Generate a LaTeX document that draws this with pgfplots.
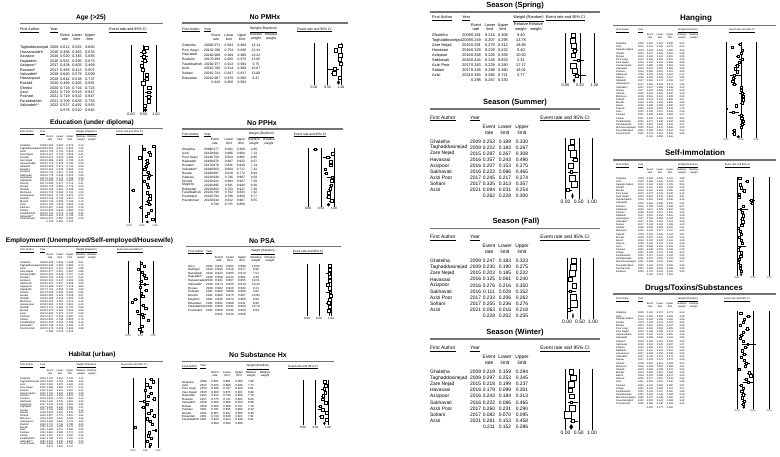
\documentclass[border=0pt]{standalone}
\usepackage{fontspec}
\setmainfont{Liberation Sans}
\usepackage{pgfplots}
\usepackage{pgfplotstable}
\pgfplotsset{compat=1.18}

% ---------------- data ----------------
\pgfplotstableread[col sep=comma]{
a,yr,e,l,u,w
Taghaddosinejad,2009,0.612,0.562,0.660,7.4
Hassanzadeh,2016,0.498,0.363,0.633,6.1
Azizpoor,2016,0.520,0.345,0.685,5.6
Hajizadeh,2016,0.561,0.395,0.673,5.8
Azizpoor*,2017,0.438,0.403,0.469,7.6
Rostami*,2017,0.456,0.413,0.507,7.4
Valizadeh*,2018,0.640,0.578,0.699,7.2
Hassanpour,2018,0.644,0.538,0.737,6.5
Rashidi,2020,0.493,0.405,0.581,6.9
Ghodsi,2020,0.719,0.716,0.723,7.9
Azizi,2021,0.719,0.543,0.847,5.2
Pashaei,2021,0.719,0.542,0.847,5.2
Farahbakhsh,2021,0.709,0.683,0.733,7.8
Valizadeh**,2022,0.537,0.491,0.583,7.4
}\tAge

\pgfplotstableread[col sep=comma]{
a,yr,e,l,u,w
Ghaleiha,2009,0.953,0.920,0.973,4.12
Taghaddosinejad,2009,0.597,0.547,0.645,4.30
Azizi,2012,0.763,0.701,0.816,4.21
Zare Nejad,2015,0.811,0.793,0.828,4.41
Dastani,2015,0.412,0.344,0.484,4.17
Sari Nejad,2015,0.688,0.631,0.740,4.25
Hassanzadeh,2016,0.712,0.619,0.790,4.05
Nikbakht,2016,0.655,0.571,0.730,4.09
Rostami,2016,0.601,0.540,0.659,4.23
Azizpoor,2016,0.734,0.657,0.799,4.11
Sakhavati,2016,0.778,0.546,0.910,2.95
Asgarpour,2017,0.742,0.713,0.769,4.38
Hajizadeh,2017,0.583,0.502,0.660,4.12
Ghodsi,2017,0.695,0.677,0.712,4.41
Rezaei,2018,0.733,0.681,0.779,4.24
Shahidi,2018,0.154,0.091,0.248,3.62
Mehrpour,2019,0.705,0.642,0.761,4.20
Hassanpour,2019,0.812,0.736,0.870,4.02
Rashidi,2020,0.794,0.769,0.817,4.39
Moradi,2020,0.733,0.659,0.796,4.13
Azizi,2021,0.781,0.604,0.894,3.40
Pashaei,2021,0.467,0.395,0.541,4.16
Soltani,2021,0.859,0.830,0.884,4.33
Farahbakhsh,2021,0.741,0.712,0.768,4.38
Valizadeh**,2022,0.661,0.615,0.704,4.31
Pourhamzeh,2022,0.912,0.867,0.943,4.06
}\tEdu

\pgfplotstableread[col sep=comma]{
a,yr,e,l,u,w
Ghaleiha,2009,0.538,0.466,0.608,4.61
Taghaddosinejad,2009,0.636,0.586,0.683,4.73
Azizi,2012,0.412,0.341,0.487,4.58
Zare Nejad,2015,0.577,0.557,0.597,4.86
Hassanzadeh,2016,0.641,0.545,0.727,4.40
Rostami,2016,0.702,0.640,0.757,4.62
Azizpoor,2016,0.515,0.437,0.592,4.55
Sakhavati,2016,0.667,0.437,0.838,3.09
Asgarpour,2017,0.488,0.457,0.519,4.82
Hajizadeh,2017,0.731,0.655,0.795,4.50
Ghodsi,2017,0.523,0.504,0.542,4.86
Rezaei,2018,0.583,0.526,0.638,4.67
Shahidi,2018,0.298,0.216,0.395,4.28
Mehrpour,2019,0.155,0.110,0.214,4.41
Hassanpour,2019,0.604,0.510,0.691,4.42
Rashidi,2020,0.711,0.684,0.737,4.84
Moradi,2020,0.375,0.302,0.454,4.55
Azizi,2021,0.563,0.372,0.737,3.66
Pashaei,2021,0.617,0.542,0.687,4.57
Soltani,2021,0.802,0.768,0.832,4.79
Farahbakhsh,2021,0.052,0.030,0.089,4.30
Valizadeh**,2022,0.548,0.502,0.593,4.74
Pourhamzeh,2022,0.473,0.403,0.544,4.58
}\tEmp

\pgfplotstableread[col sep=comma]{
a,yr,e,l,u,w
Ghaleiha,2009,0.724,0.654,0.784,4.21
Taghaddosinejad,2009,0.802,0.759,0.839,4.30
Azizi,2012,0.553,0.478,0.626,4.25
Zare Nejad,2015,0.688,0.669,0.707,4.41
Dastani,2015,0.492,0.421,0.563,4.24
Hassanzadeh,2016,0.742,0.649,0.818,4.08
Rostami,2016,0.615,0.554,0.673,4.28
Azizpoor,2016,0.833,0.765,0.884,4.12
Sakhavati,2016,0.444,0.245,0.663,3.32
Asgarpour,2017,0.579,0.548,0.609,4.39
Hajizadeh,2017,0.405,0.330,0.485,4.21
Ghodsi,2017,0.716,0.699,0.733,4.42
Rezaei,2018,0.624,0.567,0.678,4.29
Shahidi,2018,0.857,0.770,0.915,3.94
Mehrpour,2019,0.581,0.516,0.643,4.26
Hassanpour,2019,0.693,0.600,0.773,4.09
Rashidi,2020,0.774,0.749,0.798,4.40
Moradi,2020,0.102,0.058,0.171,4.22
Azizi,2021,0.906,0.751,0.969,2.95
Pashaei,2021,0.661,0.588,0.727,4.23
Soltani,2021,0.611,0.571,0.650,4.36
Farahbakhsh,2021,0.728,0.702,0.752,4.40
Valizadeh**,2022,0.579,0.533,0.624,4.35
Pourhamzeh,2022,0.689,0.620,0.750,4.22
}\tHab

\pgfplotstableread[col sep=comma]{
a,yr,e,l,u,w
Ghaleiha,2009,0.971,0.933,0.989,13.14
Poor Asayi,2014,0.798,0.754,0.836,13.34
Hajizadeh,2016,0.968,0.949,0.980,13.22
Rostami,2017,0.956,0.925,0.975,13.05
Farahbakhsh,2020,0.977,0.913,0.994,9.75
Azizi,2021,0.760,0.514,0.909,10.87
Soltani,2021,0.741,0.647,0.817,13.08
Eskandari,2021,0.967,0.879,0.992,8.47
}\tPMH

\pgfplotstableread[col sep=comma]{
a,yr,e,l,u,w
Ghaleiha,2009,0.277,0.202,0.368,4.85
Azizi,2012,0.942,0.906,0.964,7.13
Poor Asayi,2014,0.758,0.564,0.882,4.95
Hajizadeh,2016,0.876,0.807,0.923,6.97
Rostami,2017,0.876,0.831,0.910,7.14
Valizadeh*,2018,0.663,0.604,0.717,7.32
Rezaei,2020,0.697,0.610,0.772,6.93
Pashaei,2021,0.939,0.746,0.987,4.58
Ghodsi,2021,0.922,0.904,0.937,7.50
Moghimi,2021,0.895,0.811,0.944,6.30
Eskandari,2021,0.853,0.753,0.917,7.20
Farahbakhsh,2021,0.790,0.752,0.823,7.32
Pourmand,2022,0.793,0.706,0.860,6.77
Pourahmad,2022,0.918,0.812,0.967,6.55
}\tPPH

\pgfplotstableread[col sep=comma]{
a,yr,e,l,u,w
Azizi,2012,0.943,0.901,0.968,10.02
Hashjani,2013,0.956,0.918,0.977,9.92
Nasrabadi,2014,0.923,0.805,0.973,7.51
Hajizadeh,2016,0.958,0.912,0.981,9.36
Hassanzadeh,2016,0.931,0.897,0.955,10.31
Valizadeh*,2018,0.874,0.826,0.910,10.44
Rezaei,2020,0.962,0.920,0.983,9.21
Pashaei,2021,0.969,0.808,0.996,4.62
Ghodsi,2021,0.982,0.975,0.987,10.92
Moghimi,2021,0.936,0.872,0.969,8.50
Eskandari,2021,0.891,0.808,0.941,8.95
Farahbakhsh,2021,0.950,0.931,0.964,10.70
Pourmand,2022,0.906,0.832,0.950,8.04
}\tPSA

\pgfplotstableread[col sep=comma]{
a,yr,e,l,u,w
Ghaleiha,2009,0.861,0.801,0.905,7.89
Azizi,2012,0.915,0.869,0.946,7.77
Poor Asayi,2014,0.846,0.707,0.926,6.61
Zare Nejad,2015,0.889,0.876,0.901,8.38
Hajizadeh,2016,0.812,0.739,0.868,7.78
Rostami,2017,0.775,0.721,0.821,8.03
Valizadeh*,2018,0.902,0.866,0.929,8.00
Rezaei,2020,0.685,0.598,0.761,7.79
Pashaei,2021,0.781,0.605,0.893,6.22
Ghodsi,2021,0.957,0.947,0.965,8.30
Eskandari,2021,0.744,0.649,0.821,7.61
Farahbakhsh,2021,0.933,0.914,0.948,8.21
}\tSub

\pgfplotstableread[col sep=comma]{
a,yr,e,l,u,w
Ghaleiha,2009,0.261,0.214,0.308,9.40
Taghaddosinejad,2009,0.249,0.207,0.295,13.78
Zare Nejad,2015,0.291,0.279,0.312,18.85
Havasasi,2016,0.328,0.229,0.432,5.40
Azizpoor,2016,0.268,0.226,0.358,10.50
Sakhavati,2016,0.444,0.248,0.653,2.31
Azizi Poor,2017,0.263,0.229,0.280,17.17
Soltani,2017,0.328,0.298,0.360,18.01
Azizi,2021,0.383,0.266,0.721,3.77
}\tSpr

\pgfplotstableread[col sep=comma]{
a,yr,e,l,u,w
Ghaleiha,2009,0.253,0.189,0.330,9.4
Taghaddosinejad,2009,0.222,0.183,0.267,13.8
Zare Nejad,2015,0.287,0.267,0.308,18.9
Havasasi,2016,0.357,0.243,0.490,5.4
Azizpoor,2016,0.207,0.153,0.275,10.5
Sakhavati,2016,0.222,0.086,0.465,2.3
Azizi Poor,2017,0.245,0.217,0.274,17.2
Soltani,2017,0.335,0.313,0.357,18.0
Azizi,2021,0.094,0.031,0.254,3.8
}\tSum

\pgfplotstableread[col sep=comma]{
a,yr,e,l,u,w
Ghaleiha,2009,0.247,0.183,0.323,9.4
Taghaddosinejad,2009,0.230,0.190,0.275,13.8
Zare Nejad,2015,0.203,0.185,0.222,18.9
Havasasi,2016,0.125,0.061,0.240,5.4
Azizpoor,2016,0.276,0.216,0.350,10.5
Sakhavati,2016,0.111,0.028,0.352,2.3
Azizi Poor,2017,0.233,0.206,0.262,17.2
Soltani,2017,0.255,0.236,0.276,18.0
Azizi,2021,0.063,0.016,0.218,3.8
}\tFal

\pgfplotstableread[col sep=comma]{
a,yr,e,l,u,w
Ghaleiha,2009,0.219,0.159,0.294,9.4
Taghaddosinejad,2009,0.297,0.253,0.345,13.8
Zare Nejad,2015,0.218,0.199,0.237,18.9
Havasasi,2016,0.179,0.099,0.301,5.4
Azizpoor,2016,0.243,0.184,0.313,10.5
Sakhavati,2016,0.222,0.086,0.465,2.3
Azizi Poor,2017,0.260,0.231,0.290,17.2
Soltani,2017,0.082,0.070,0.095,18.0
Azizi,2021,0.281,0.153,0.458,3.8
}\tWin

\pgfplotstableread[col sep=comma]{
a,yr,e,l,u,w
Ghaleiha,2009,0.481,0.414,0.548,3.43
Azizi,2012,0.215,0.165,0.275,3.34
Sadeghi Zadeh,2013,0.528,0.491,0.565,3.53
Ghodsi,2013,0.512,0.463,0.561,3.49
Mirzaei,2014,0.404,0.331,0.481,3.36
Poor Asayi,2014,0.530,0.446,0.612,3.30
Zare Nejad,2015,0.437,0.416,0.458,3.58
Hassanzadeh,2015,0.383,0.298,0.476,3.24
Hajizadeh,2016,0.316,0.258,0.381,3.38
Rostami,2016,0.365,0.321,0.411,3.50
Sakhavati,2016,0.278,0.122,0.516,2.11
Dastani,2016,0.250,0.193,0.317,3.35
Nikbakht,2017,0.224,0.174,0.283,3.37
Hassanpour,2017,0.281,0.204,0.374,3.18
Valizadeh*,2017,0.507,0.466,0.548,3.52
Rezaei,2017,0.518,0.458,0.578,3.45
Shahidi,2018,0.526,0.420,0.630,3.13
Mehrpour,2018,0.561,0.512,0.609,3.49
Rashidi,2019,0.573,0.547,0.599,3.57
Moradi,2019,0.530,0.459,0.600,3.39
Bazmi,2019,0.338,0.299,0.380,3.52
Rasouli,2020,0.022,0.006,0.078,1.76
Azizi,2021,0.235,0.107,0.439,2.33
Pashaei,2021,0.508,0.406,0.609,3.17
Soltani,2021,0.522,0.491,0.553,3.56
Farahbakhsh,2021,0.571,0.548,0.594,3.58
Khodabandeh,2021,0.552,0.460,0.641,3.27
Mohammadnejad,2022,0.514,0.470,0.558,3.50
Nourolahzadeh,2022,0.262,0.201,0.334,3.33
Pourhamzeh,2022,0.274,0.213,0.345,3.35
}\tHang

\pgfplotstableread[col sep=comma]{
a,yr,e,l,u,w
Ghaleiha,2009,0.086,0.055,0.131,3.39
Azizi,2012,0.308,0.245,0.379,3.41
Sadeghi Zadeh,2013,0.104,0.083,0.129,3.50
Ghodsi,2013,0.121,0.092,0.158,3.45
Mirzaei,2014,0.216,0.160,0.285,3.38
Poor Asayi,2014,0.079,0.044,0.138,3.12
Zare Nejad,2015,0.054,0.045,0.064,3.51
Hassanzadeh,2015,0.452,0.360,0.548,3.36
Hajizadeh,2016,0.466,0.398,0.535,3.42
Rostami,2016,0.198,0.163,0.238,3.47
Sakhavati,2016,0.111,0.028,0.352,1.93
Dastani,2016,0.164,0.117,0.225,3.35
Nikbakht,2017,0.201,0.152,0.261,3.38
Hassanpour,2017,0.154,0.098,0.234,3.23
Valizadeh*,2017,0.180,0.151,0.213,3.48
Rezaei,2017,0.149,0.110,0.199,3.40
Shahidi,2018,0.029,0.009,0.087,2.31
Mehrpour,2018,0.103,0.077,0.137,3.42
Rashidi,2019,0.125,0.109,0.143,3.51
Moradi,2019,0.057,0.031,0.103,3.15
Bazmi,2019,0.132,0.106,0.163,3.46
Rasouli,2020,0.164,0.118,0.224,3.36
Azizi,2021,0.088,0.022,0.293,2.05
Pashaei,2021,0.046,0.019,0.108,2.78
Soltani,2021,0.126,0.107,0.148,3.50
Farahbakhsh,2021,0.117,0.103,0.132,3.52
Khodabandeh,2021,0.074,0.040,0.133,3.09
Mohammadnejad,2022,0.038,0.024,0.060,3.27
Nourolahzadeh,2022,0.105,0.070,0.155,3.30
Pourhamzeh,2022,0.092,0.060,0.138,3.28
Khademi,2022,0.131,0.093,0.181,3.32
}\tSelf

\pgfplotstableread[col sep=comma]{
a,yr,e,l,u,w
Ghaleiha,2009,0.118,0.079,0.173,3.41
Azizi,2012,0.356,0.290,0.428,3.48
Sadeghi Zadeh,2013,0.229,0.199,0.262,3.56
Ghodsi,2013,0.182,0.147,0.223,3.52
Mirzaei,2014,0.091,0.055,0.147,3.28
Poor Asayi,2014,0.318,0.242,0.405,3.39
Zare Nejad,2015,0.196,0.180,0.213,3.59
Hassanzadeh,2015,0.124,0.072,0.205,3.18
Hajizadeh,2016,0.098,0.066,0.143,3.35
Rostami,2016,0.185,0.151,0.225,3.50
Sakhavati,2016,0.333,0.149,0.587,2.47
Dastani,2016,0.268,0.211,0.334,3.45
Nikbakht,2017,0.151,0.110,0.204,3.40
Hassanpour,2017,0.223,0.156,0.308,3.30
Valizadeh*,2017,0.142,0.116,0.173,3.52
Rezaei,2017,0.219,0.173,0.273,3.46
Shahidi,2018,0.300,0.214,0.403,3.24
Mehrpour,2018,0.264,0.224,0.308,3.51
Rashidi,2019,0.060,0.049,0.073,3.50
Moradi,2019,0.392,0.324,0.464,3.45
Bazmi,2019,0.431,0.389,0.474,3.56
Rasouli,2020,0.277,0.219,0.343,3.44
Azizi,2021,0.352,0.201,0.540,2.86
Pashaei,2021,0.120,0.069,0.200,3.21
Soltani,2021,0.187,0.165,0.211,3.57
Farahbakhsh,2021,0.143,0.127,0.160,3.58
Khodabandeh,2021,0.200,0.136,0.284,3.29
Mohammadnejad,2022,0.167,0.138,0.200,3.50
Nourolahzadeh,2022,0.220,0.167,0.284,3.42
Pourhamzeh,2022,0.186,0.136,0.249,3.40
}\tDrug

% ---------------- styles ----------------
\newcommand\X[1]{((#1)-\xz)/(\xo-\xz)}
\def\msk{0.62}
\pgfplotsset{
  panelax/.style={anchor=north west, scale only axis, xmin=0, xmax=1, ymin=-0.5,
    y dir=reverse, clip=false, enlargelimits=false, axis line style={draw=none},
    major tick length=0pt, ytick=\empty, xtick={0,0.5,1},
    xticklabels={0.00,0.50,1.00}, xticklabel style={font=\tf, inner sep=0.8pt}},
  vline/.style={black, line width=0.3pt, mark=none},
  study/.style={scatter, only marks, mark=square*,
    scatter/use mapped color={draw=black, fill=white},
    visualization depends on={\msk*sqrt(\thisrow{w})\as\wsz},
    scatter/@pre marker code/.append style={/tikz/mark size=\wsz, /tikz/line width=0.25pt},
    error bars/.cd, x dir=both, x explicit, error mark=none,
    error bar style={line width=0.3pt, black}},
  txt/.style={only marks, mark=-, mark size=0pt, scatter, point meta=explicit symbolic,
    scatter/@pre marker code/.code={\node[anchor=#1, inner sep=0pt, font=\tf] at (0pt,0pt) {\pgfplotspointmeta};},
    scatter/@post marker code/.code={}},
}
\tikzset{hd/.style={font=\tf, inner sep=0pt}}

\newcommand\panel[1]{%
  \pgfmathsetmacro\ay{-(\yt-0.5*\dy)}%
  \pgfmathsetmacro\aw{\xo-\xz}%
  \pgfmathsetmacro\ah{(\nr+1)*\dy}%
  \pgfmathsetmacro\ye{\nr+0.5}%
  \pgfmathsetmacro\yda{\nr-0.42}%
  \pgfmathsetmacro\ydb{\nr+0.42}%
  \pgfmathsetmacro\uE{\X{\cE}}%
  \pgfmathsetmacro\uL{\X{\cL}}%
  \pgfmathsetmacro\uU{\X{\cU}}%
  \begin{axis}[panelax, at={(\xz pt,\ay pt)}, width=\aw pt, height=\ah pt, ymax=\ye]
    \addplot[vline] coordinates {(0,-0.5) (0,\ye)};
    \addplot[vline] coordinates {(0.5,-0.5) (0.5,\ye)};
    \addplot[vline] coordinates {(1,-0.5) (1,\ye)};
    \addplot[study] table[x=e, y expr=\coordindex,
      x error plus expr=\thisrow{u}-\thisrow{e},
      x error minus expr=\thisrow{e}-\thisrow{l}]{#1};
    \addplot[fill=black, draw=black, line width=0.2pt] coordinates
      {(\sL,\nr) (\sE,\yda) (\sU,\nr) (\sE,\ydb) (\sL,\nr)};
    \addplot[txt=west] table[x expr={\X{\cA}}, y expr=\coordindex, meta=a]{#1};
    \addplot[txt=west] table[x expr={\X{\cY}}, y expr=\coordindex, meta=yr]{#1};
    \addplot[txt=center] table[x expr={\X{\cE}}, y expr=\coordindex, meta=e]{#1};
    \addplot[txt=center] table[x expr={\X{\cL}}, y expr=\coordindex, meta=l]{#1};
    \addplot[txt=center] table[x expr={\X{\cU}}, y expr=\coordindex, meta=u]{#1};
    \ifnum\showW=1
    \addplot[txt=center] table[x expr={\X{\cW}}, y expr=\coordindex, meta=w]{#1};
    \fi
    \node[hd] at (axis cs:\uE,\nr) {\sE};
    \node[hd] at (axis cs:\uL,\nr) {\sL};
    \node[hd] at (axis cs:\uU,\nr) {\sU};
  \end{axis}
  \pgfmathsetmacro\wc{(\cW+\cWW)/2}%
  \node[hd, anchor=west] at (\cA pt,-\yh pt) {\underline{First Author}};
  \node[hd, anchor=west] at (\cY pt,-\yh pt) {\underline{Year}};
  \node[hd] at (\fcx pt,-\yh pt) {\underline{Event rate and 95\% CI}};
  \node[hd, align=center] at (\cE pt,-\ys pt) {Event\\rate};
  \node[hd, align=center] at (\cL pt,-\ys pt) {Lower\\limit};
  \node[hd, align=center] at (\cU pt,-\ys pt) {Upper\\limit};
  \ifnum\showW=1
  \node[hd] at (\wc pt,-\yh pt) {\underline{Weight (Random)}};
  \node[hd, align=center] at (\cW pt,-\ys pt) {Relative\\weight};
  \node[hd, align=center] at (\cWW pt,-\ys pt) {Relative\\weight};
  \fi
  \draw[black!55, line width=1.1pt] (\lxa pt,-\ly pt) -- (\lxb pt,-\ly pt);
  \node[font=\ttf, inner sep=0pt] at (\tx pt,-\ty pt) {\ttl};
}

\begin{document}
\begin{tikzpicture}
\path[use as bounding box] (0,0) rectangle (780pt,-457pt);

% ===== column 1 =====
\def\ttf{\fontsize{6.6}{7}\selectfont\bfseries}
\def\tf{\fontsize{3.7}{4.1}\selectfont}\def\msk{0.62}
\def\xz{131}\def\xo{156}\def\yt{47.7}\def\dy{4.45}\def\nr{14}
\def\cA{20}\def\cY{50}\def\cE{65}\def\cL{77}\def\cU{90}\def\cW{100}\def\cWW{110}\def\showW{0}
\def\sE{0.578}\def\sL{0.510}\def\sU{0.645}\def\fcx{128}
\def\yh{30.5}\def\ys{37.5}\def\ttl{Age (>25)}\def\tx{91}\def\ty{17.6}\def\lxa{20}\def\lxb{163}\def\ly{23.7}
\panel{\tAge}

\def\tf{\fontsize{2.6}{2.9}\selectfont}\def\msk{0.55}
\def\xz{129}\def\xo{155}\def\yt{146}\def\dy{2.92}\def\nr{26}
\def\cA{20}\def\cY{40}\def\cE{50}\def\cL{60}\def\cU{70}\def\cW{81}\def\cWW{92}\def\showW{1}
\def\sE{0.705}\def\sL{0.651}\def\sU{0.754}\def\fcx{129.5}
\def\yh{133}\def\ys{138.5}\def\ttl{Education (under diploma)}\def\tx{92}\def\ty{122.5}\def\ly{128.6}
\panel{\tEdu}

\def\xz{128}\def\xo{153}\def\yt{263}\def\dy{3.0}\def\nr{23}
\def\sE{0.568}\def\sL{0.519}\def\sU{0.616}\def\fcx{130}
\def\yh{251}\def\ys{256.5}\def\ttl{Employment (Unemployed/Self-employed/Housewife)}\def\tx{89.5}\def\ty{241}\def\ly{246.5}
\panel{\tEmp}

\def\tf{\fontsize{2.5}{2.8}\selectfont}
\def\xz{133}\def\xo{158}\def\yt{379}\def\dy{2.83}\def\nr{24}
\def\sE{0.671}\def\sL{0.622}\def\sU{0.717}\def\fcx{134}
\def\yh{366}\def\ys{372}\def\ttl{Habitat (urban)}\def\tx{92}\def\ty{355}\def\ly{361.5}
\panel{\tHab}

% ===== column 2 =====
\def\ttf{\fontsize{7}{8}\selectfont\bfseries}
\def\tf{\fontsize{3.4}{3.8}\selectfont}\def\msk{0.5}
\def\xz{314}\def\xo{341}\def\yt{45.7}\def\dy{4.6}\def\nr{8}
\def\cA{182}\def\cY{204}\def\cE{216}\def\cL{229}\def\cU{242}\def\cW{256}\def\cWW{271}\def\showW{1}
\def\sE{0.915}\def\sL{0.850}\def\sU{0.953}\def\fcx{314.5}
\def\yh{30}\def\ys{37}\def\ttl{No PMHx}\def\tx{265}\def\ty{17}\def\lxa{182}\def\lxb{348}\def\ly{23}
\panel{\tPMH}

\def\tf{\fontsize{3.2}{3.6}\selectfont}
\def\xz{308}\def\xo{334}\def\yt{149.6}\def\dy{3.93}\def\nr{14}
\def\cE{215}\def\cL{229}\def\cU{241}\def\cW{254}\def\cWW{269}
\def\sE{0.793}\def\sL{0.725}\def\sU{0.850}\def\fcx{310}
\def\yh{135}\def\ys{141.5}\def\ttl{No PPHx}\def\tx{262}\def\ty{123.5}\def\lxb{343}\def\ly{129}
\panel{\tPPH}

\def\tf{\fontsize{3.0}{3.4}\selectfont}
\def\xz{307}\def\xo{331}\def\yt{266}\def\dy{3.7}\def\nr{13}
\def\cA{188}\def\cY{206}\def\cE{219}\def\cL{230}\def\cU{242}\def\cW{256}\def\cWW{270}
\def\sE{0.941}\def\sL{0.918}\def\sU{0.958}\def\fcx{308}
\def\yh{252}\def\ys{259}\def\ttl{No PSA}\def\tx{262}\def\ty{241}\def\lxa{186}\def\lxb{341}\def\ly{246.5}
\panel{\tPSA}

\def\tf{\fontsize{2.9}{3.3}\selectfont}
\def\xz{303}\def\xo{328}\def\yt{382}\def\dy{3.45}\def\nr{12}
\def\cA{182}\def\cY{200}\def\cE{215}\def\cL{227}\def\cU{239}\def\cW{251}\def\cWW{265}
\def\sE{0.858}\def\sL{0.809}\def\sU{0.896}\def\fcx{303}
\def\yh{367}\def\ys{374}\def\ttl{No Substance Hx}\def\tx{258}\def\ty{355}\def\lxa{182}\def\lxb{334}\def\ly{361.5}
\panel{\tSub}

% ===== column 3 =====
\def\ttf{\fontsize{7.5}{8}\selectfont\bfseries}
\def\tf{\fontsize{3.9}{4.3}\selectfont}\def\msk{0.62}
\def\xz{565.5}\def\xo{594.5}\def\yt{35.5}\def\dy{5.0}\def\nr{9}
\def\cA{432}\def\cY{462}\def\cE{476}\def\cL{490}\def\cU{503}\def\cW{521}\def\cWW{536}\def\showW{1}
\def\sE{0.298}\def\sL{0.267}\def\sU{0.330}\def\fcx{565.5}
\def\yh{18.6}\def\ys{27}\def\ttl{Season (Spring)}\def\tx{515}\def\ty{5.5}\def\lxa{430}\def\lxb{600}\def\ly{12}
\panel{\tSpr}

\def\tf{\fontsize{4.9}{5.6}\selectfont}\def\msk{0.75}
\def\xz{565.5}\def\xo{592}\def\yt{141.5}\def\dy{6.06}
\def\cA{430}\def\cY{470}\def\cE{489}\def\cL{505}\def\cU{522}\def\showW{0}
\def\sE{0.262}\def\sL{0.228}\def\sU{0.300}\def\fcx{565}
\def\yh{118.5}\def\ys{129.6}\def\ttl{Season (Summer)}\def\ty{103}\def\ly{109}
\panel{\tSum}

\def\xz{567}\def\xo{593}\def\yt{261}\def\dy{6.1}
\def\sE{0.228}\def\sL{0.202}\def\sU{0.255}
\def\yh{237.6}\def\ys{249}\def\ttl{Season (Fall)}\def\tx{516}\def\ty{222}\def\ly{228.5}
\panel{\tFal}

\def\xz{565.5}\def\xo{592}\def\yt{371.7}\def\dy{6.13}
\def\sE{0.211}\def\sL{0.152}\def\sU{0.286}
\def\yh{348.7}\def\ys{360}\def\ttl{Season (Winter)}\def\tx{515}\def\ty{333}\def\ly{339}
\panel{\tWin}

% ===== column 4 =====
\def\ttf{\fontsize{8}{9}\selectfont\bfseries}
\def\tf{\fontsize{2.5}{2.9}\selectfont}\def\msk{0.6}
\def\xz{726}\def\xo{756}\def\yt{44}\def\dy{3.09}\def\nr{30}
\def\cA{616}\def\cY{638}\def\cE{650}\def\cL{660}\def\cU{670}\def\cW{682}\def\cWW{694}\def\showW{1}
\def\sE{0.411}\def\sL{0.358}\def\sU{0.466}\def\fcx{742}
\def\yh{30.5}\def\ys{36}\def\ttl{Hanging}\def\tx{696}\def\ty{18.6}\def\lxa{613}\def\lxb{776}\def\ly{25.4}
\panel{\tHang}

\def\xz{737}\def\xo{769}\def\yt{178.4}\def\dy{3.1}\def\nr{31}
\def\sE{0.126}\def\sL{0.101}\def\sU{0.156}\def\fcx{737.5}
\def\yh{166}\def\ys{171}\def\ttl{Self-Immolation}\def\tx{695}\def\ty{153}\def\ly{160}
\panel{\tSelf}

\def\xz{737}\def\xo{769}\def\yt{313}\def\dy{3.14}\def\nr{30}
\def\sE{0.212}\def\sL{0.177}\def\sU{0.252}\def\fcx{737}
\def\yh{299.6}\def\ys{305}\def\ttl{Drugs/Toxins/Substances}\def\tx{694}\def\ty{288}\def\ly{294}
\panel{\tDrug}

\end{tikzpicture}
\end{document}
